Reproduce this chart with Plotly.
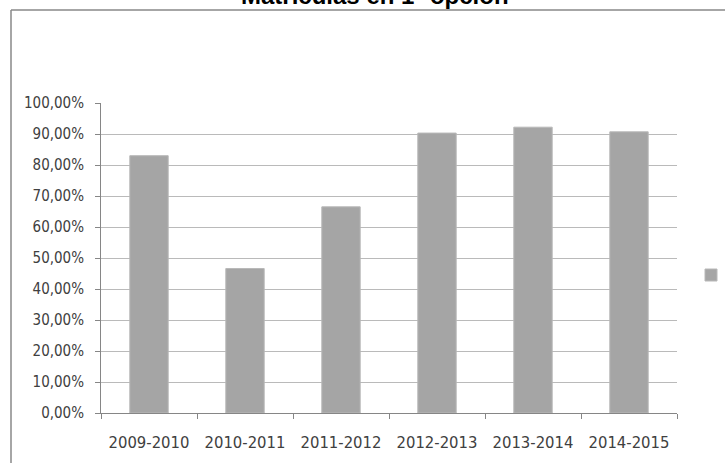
import plotly.graph_objects as go

categories = ["2009-2010", "2010-2011", "2011-2012", "2012-2013", "2013-2014", "2014-2015"]
values = [0.830, 0.466, 0.665, 0.903, 0.922, 0.907]
y_ticks = [i / 10 for i in range(11)]
y_tick_labels = [f"{i*10},00%" for i in range(11)]
title_text = "Matrículas en 1ª opción"

W, H = 725, 463
L, R, T, B = 101, 48, 103, 50
pw, ph = W - L - R, H - T - B

def px_x(x):
    return (x - L) / pw

def px_y(y):
    return (H - B - y) / ph

font_fam = "DejaVu Sans Condensed, DejaVu Sans, sans-serif"

fig = go.Figure()
fig.add_trace(go.Bar(
    x=categories, y=values, name=" ",
    marker=dict(color="#A5A5A5", line=dict(color="#B8B8B8", width=1)),
    width=0.4, showlegend=True,
))

fig.update_layout(
    width=W, height=H,
    margin=dict(l=L, r=R, t=T, b=B, autoexpand=False),
    paper_bgcolor="white", plot_bgcolor="white",
    showlegend=True,
    legend=dict(x=px_x(691), y=px_y(275), xanchor="left", yanchor="middle",
                font=dict(size=10, color="white"), bgcolor="rgba(0,0,0,0)"),
    xaxis=dict(
        type="category", range=[-0.5, 5.5],
        showline=True, linecolor="#868686", linewidth=1,
        ticks="outside", tickson="boundaries", ticklen=5, tickcolor="#868686",
        tickfont=dict(family=font_fam, size=16.5, color="#404040"),
        ticklabelstandoff=14, showgrid=False, zeroline=False,
    ),
    yaxis=dict(
        range=[0, 1.0], tickvals=y_ticks, ticktext=y_tick_labels,
        showline=True, linecolor="#868686", linewidth=1,
        ticks="outside", ticklen=5, tickcolor="#868686",
        tickfont=dict(family=font_fam, size=15, color="#404040"),
        ticklabelstandoff=8,
        showgrid=True, gridcolor="#BABABA", gridwidth=1.3, zeroline=False,
    ),
)

fig.add_annotation(
    text="<b>" + title_text + "</b>", xref="paper", yref="paper",
    x=px_x(375), y=px_y(-4), xanchor="center", yanchor="middle",
    showarrow=False, font=dict(family="Liberation Sans, Arial", size=24, color="black"),
)

fig.add_shape(type="line", xref="paper", yref="paper",
              x0=px_x(11), x1=px_x(W + 5), y0=px_y(10), y1=px_y(10),
              line=dict(color="#888888", width=1.5))
fig.add_shape(type="line", xref="paper", yref="paper",
              x0=px_x(11), x1=px_x(11), y0=px_y(10), y1=px_y(H + 5),
              line=dict(color="#888888", width=1.5))

fig.write_html("out.html", config={"displayModeBar": False},
               post_script="document.body.style.margin='0';document.body.style.overflow='hidden';")
